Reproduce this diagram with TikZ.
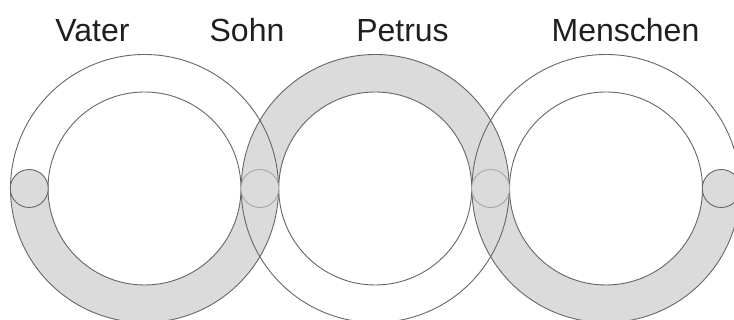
\documentclass[tikz,border=0pt]{standalone}
\usepackage{fontspec}
\setmainfont{Liberation Sans}
\usetikzlibrary{calc,positioning}
\tikzset{ringline/.style={draw=black!60,line width=0.9pt},
bandfill/.style={fill=black!14}}

\begin{document}
\begin{tikzpicture}[x=1pt,y=1pt]

\tikzset{labeltext/.style={font=\fontsize{32}{38}\selectfont,text=black!88,inner sep=0pt,anchor=base},
knot/.style={ringline,fill=black!14},
faintknot/.style={draw=black!35,line width=0.9pt,fill=black!14}}

\useasboundingbox (0,0) rectangle (734,320);

% Ring centres
\coordinate (c1) at (144.5,131.5);
\coordinate (c2) at (375.25,131.5);
\coordinate (c3) at (606,131.5);

% Shaded half bands
\foreach \c/\a/\b in {c1/180/360, c2/0/180, c3/180/360}
  \fill[bandfill] ($(\c)+(\a:134)$) arc (\a:\b:134) -- ($(\c)+(\b:96.5)$) arc (\b:\a:96.5) -- cycle;

% Outer and inner circles
\foreach \c in {c1,c2,c3} {
  \draw[ringline] (\c) circle (134);
  \draw[ringline] (\c) circle (96.5);
}

% Small circles
\draw[knot] ($(c1)+(-115.25,0)$) circle (19);
\draw[faintknot] ($(c1)!0.5!(c2)$) circle (19);
\draw[faintknot] ($(c2)!0.5!(c3)$) circle (19);
\draw[knot] ($(c3)+(115.25,0)$) circle (19);

% Labels
\node[labeltext] (vater) at (92.5,278.3) {Vater};
\node[labeltext] (sohn) at (247,278.3) {Sohn};
\node[labeltext] (petrus) at (402.5,278.3) {Petrus};
\node[labeltext] (menschen) at (625.5,278.3) {Menschen};

\end{tikzpicture}
\end{document}
